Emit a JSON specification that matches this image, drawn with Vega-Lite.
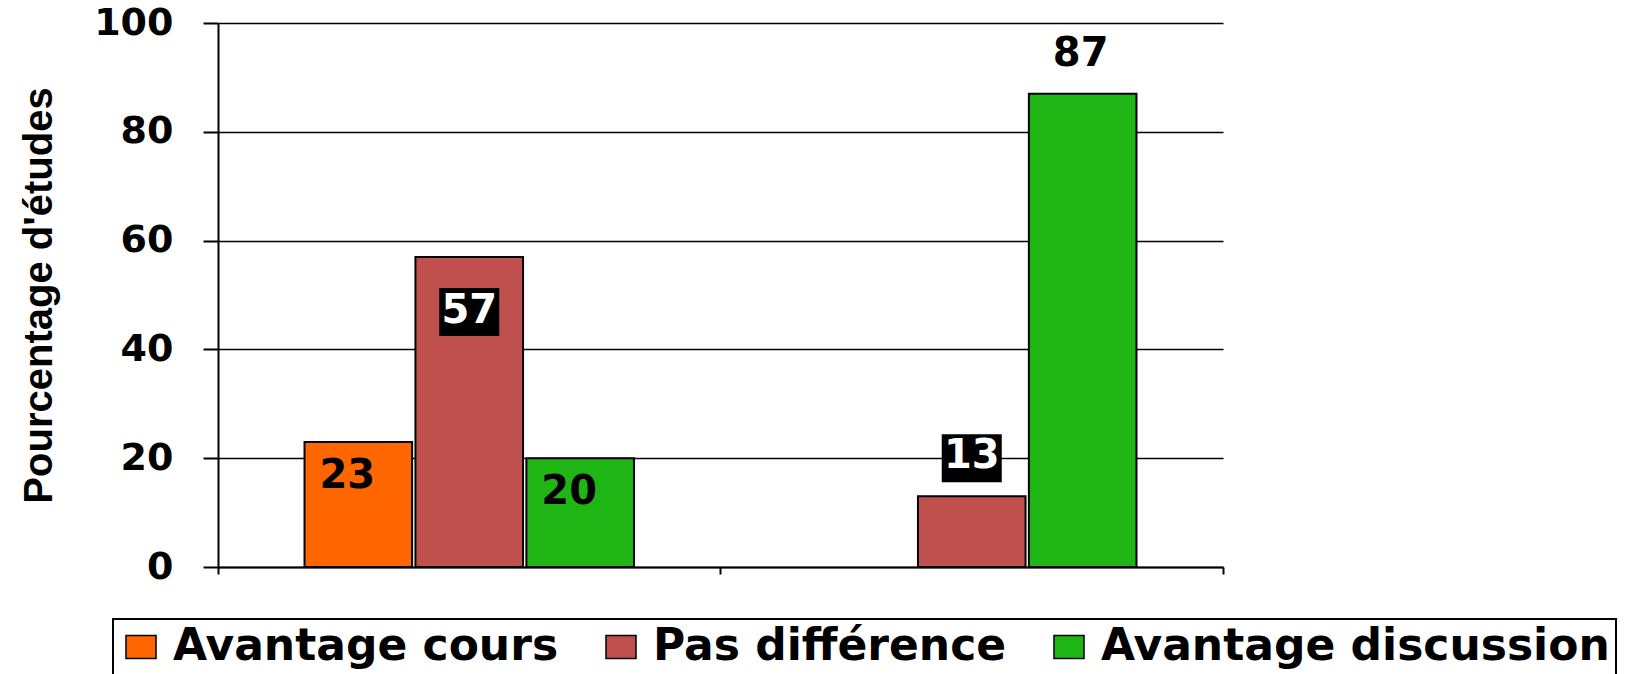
{
  "$schema": "https://vega.github.io/schema/vega-lite/v6.json",
  "width": 1005,
  "height": 544,
  "autosize": {"type": "none"},
  "padding": {"left": 218, "top": 23, "right": 420, "bottom": 107},
  "background": "white",
  "config": {"view": {"stroke": null}, "font": "DejaVu Sans", "legend": {"strokeWidth": 2}},
  "data": {
    "values": [
      {"groupe": "Groupe 1", "serie": "Avantage cours", "pourcentage": 23},
      {"groupe": "Groupe 1", "serie": "Pas différence", "pourcentage": 57},
      {"groupe": "Groupe 1", "serie": "Avantage discussion", "pourcentage": 20},
      {"groupe": "Groupe 2", "serie": "Pas différence", "pourcentage": 13},
      {"groupe": "Groupe 2", "serie": "Avantage discussion", "pourcentage": 87}
    ]
  },
  "encoding": {
    "x": {
      "field": "groupe",
      "type": "nominal",
      "sort": null,
      "scale": {"paddingInner": 0, "paddingOuter": 0},
      "axis": {
        "title": null,
        "labels": false,
        "domain": true,
        "domainColor": "black",
        "domainWidth": 2,
        "ticks": true,
        "tickColor": "black",
        "tickWidth": 2,
        "tickSize": 7,
        "bandPosition": 1,
        "tickExtra": true,
        "grid": false
      }
    },
    "xOffset": {
      "field": "serie",
      "type": "nominal",
      "sort": ["Avantage cours", "Pas différence", "Avantage discussion"],
      "scale": {
        "domain": ["Avantage cours", "Pas différence", "Avantage discussion"],
        "paddingInner": 0.03,
        "paddingOuter": 0.78
      }
    },
    "y": {
      "field": "pourcentage",
      "type": "quantitative",
      "scale": {"domain": [0, 100], "nice": false},
      "axis": {
        "title": "Pourcentage d'études",
        "values": [0, 20, 40, 60, 80, 100],
        "grid": true,
        "gridColor": "black",
        "gridWidth": 1.5,
        "domainColor": "black",
        "domainWidth": 2,
        "tickColor": "black",
        "tickWidth": 2,
        "tickSize": 15,
        "labelFont": "DejaVu Sans",
        "labelFontWeight": "bold",
        "labelFontSize": 38,
        "labelColor": "black",
        "labelPadding": 30,
        "labelFlush": false,
        "labelOverlap": false,
        "titleFont": "Liberation Sans",
        "titleFontWeight": "bold",
        "titleFontSize": 40,
        "titleColor": "black",
        "titleX": -167,
        "titleY": 272,
        "titleAngle": -90,
        "titleAlign": "center",
        "titleBaseline": "alphabetic"
      }
    }
  },
  "layer": [
    {
      "mark": {"type": "bar", "stroke": "black", "strokeWidth": 2},
      "encoding": {
        "color": {
          "field": "serie",
          "type": "nominal",
          "scale": {
            "domain": ["Avantage cours", "Pas différence", "Avantage discussion"],
            "range": ["#FF6600", "#C0504D", "#1FB515"]
          },
          "legend": {
            "orient": "none",
            "direction": "horizontal",
            "legendX": -105,
            "legendY": 596,
            "title": null,
            "strokeColor": "black",
            "padding": 6,
            "symbolType": "M-1,-0.76H1V0.76H-1Z",
            "symbolSize": 900,
            "symbolStrokeColor": "black",
            "symbolStrokeWidth": 1.5,
            "symbolOpacity": 1,
            "labelFont": "DejaVu Sans",
            "labelFontWeight": "bold",
            "labelFontSize": 44,
            "labelColor": "black",
            "labelLimit": 1000,
            "labelOffset": 10,
            "columnPadding": 40
          }
        }
      }
    },
    {
      "transform": [{"filter": "datum.serie != 'Pas différence' && datum.pourcentage < 50"}],
      "mark": {"type": "text", "font": "DejaVu Sans", "fontWeight": "bold", "fontSize": 40, "color": "black", "baseline": "middle", "dy": 34, "dx": -11},
      "encoding": {"text": {"field": "pourcentage", "type": "quantitative"}}
    },
    {
      "transform": [{"filter": "datum.serie != 'Pas différence' && datum.pourcentage >= 50"}],
      "mark": {"type": "text", "font": "DejaVu Sans", "fontWeight": "bold", "fontSize": 40, "color": "black", "baseline": "middle", "dy": -40, "dx": -2},
      "encoding": {"text": {"field": "pourcentage", "type": "quantitative"}}
    },
    {
      "transform": [{"filter": "datum.serie == 'Pas différence' && datum.pourcentage >= 30"}],
      "mark": {"type": "point", "shape": "M-1,-0.8H1V0.8H-1Z", "size": 3600, "filled": true, "color": "black", "opacity": 1, "strokeWidth": 0, "yOffset": 55},
      "encoding": {}
    },
    {
      "transform": [{"filter": "datum.serie == 'Pas différence' && datum.pourcentage >= 30"}],
      "mark": {"type": "text", "font": "DejaVu Sans", "fontWeight": "bold", "fontSize": 40, "color": "white", "baseline": "middle", "dy": 54},
      "encoding": {"text": {"field": "pourcentage", "type": "quantitative"}}
    },
    {
      "transform": [{"filter": "datum.serie == 'Pas différence' && datum.pourcentage < 30"}],
      "mark": {"type": "point", "shape": "M-1,-0.8H1V0.8H-1Z", "size": 3600, "filled": true, "color": "black", "opacity": 1, "strokeWidth": 0, "yOffset": -38},
      "encoding": {}
    },
    {
      "transform": [{"filter": "datum.serie == 'Pas différence' && datum.pourcentage < 30"}],
      "mark": {"type": "text", "font": "DejaVu Sans", "fontWeight": "bold", "fontSize": 40, "color": "white", "baseline": "middle", "dy": -40},
      "encoding": {"text": {"field": "pourcentage", "type": "quantitative"}}
    }
  ]
}
